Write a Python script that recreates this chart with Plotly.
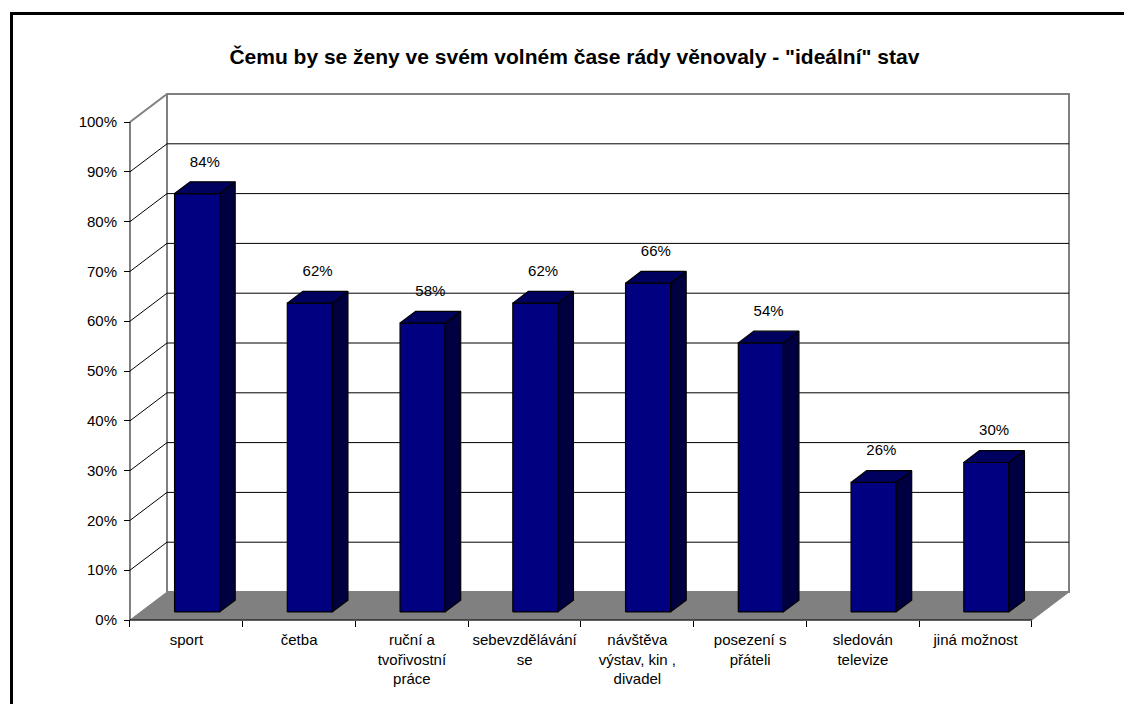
import plotly.graph_objects as go

# Survey data: share of women who would like to spend free time on each activity
categories = [
    "sport",
    "četba",
    "ruční a<br>tvořivostní<br>práce",
    "sebevzdělávání<br>se",
    "návštěva<br>výstav, kin ,<br>divadel",
    "posezení s<br>přáteli",
    "sledován<br>televize",
    "jiná možnost",
]
values = [0.84, 0.62, 0.58, 0.62, 0.66, 0.54, 0.26, 0.30]
value_labels = ["84%", "62%", "58%", "62%", "66%", "54%", "26%", "30%"]
y_ticks = [i / 10 for i in range(11)]

TITLE = 'Čemu by se ženy ve svém volném čase rády věnovaly - "ideální" stav'
FONT = "Arial, Liberation Sans, sans-serif"
FS = 15

# --- page / plot geometry (pixels) ---
W, H = 1124, 704
X0_PX, UNIT_X = 130.0, 112.75      # front x-axis origin and pixels per category
Y0_PX, UNIT_Y = 620.0, 498.0       # front y-axis origin and pixels per 100 %
DEPTH_PX = (37.0, 28.0)            # oblique depth of the floor / walls

n = len(categories)
DX = DEPTH_PX[0] / UNIT_X          # depth offset in data units
DY = DEPTH_PX[1] / UNIT_Y
X_RANGE = [-0.1, n + 0.4]
Y_RANGE = [-0.03, 1.07]

dom_x = [(X0_PX + X_RANGE[0] * UNIT_X) / W, (X0_PX + X_RANGE[1] * UNIT_X) / W]
dom_y = [(H - (Y0_PX - Y_RANGE[0] * UNIT_Y)) / H, (H - (Y0_PX - Y_RANGE[1] * UNIT_Y)) / H]

D_FRONT, D_BACK = 0.29, 0.71       # bar depth inside the floor
HALF_W = 0.2                       # half bar width in category units

C_FRONT, C_TOP, C_SIDE = "#000080", "#00005E", "#000040"
GRAY = "#808080"


def proj(x, y, d):
    """Oblique projection of a point at depth fraction d."""
    return x + d * DX, y + d * DY


fig = go.Figure()


def poly(points, fill, line_color, line_width=1.0):
    xs = [p[0] for p in points] + [points[0][0]]
    ys = [p[1] for p in points] + [points[0][1]]
    fig.add_trace(go.Scatter(
        x=xs, y=ys, mode="lines", fill="toself", fillcolor=fill,
        line=dict(color=line_color, width=line_width),
        hoverinfo="skip", showlegend=False))


def polyline(xs, ys, color, width=1.0):
    fig.add_trace(go.Scatter(
        x=xs, y=ys, mode="lines", line=dict(color=color, width=width),
        hoverinfo="skip", showlegend=False))


# back wall
poly([proj(0, 0, 1), proj(n, 0, 1), proj(n, 1, 1), proj(0, 1, 1)], "white", GRAY, 2)

# gridlines on the left and back walls
gx, gy = [], []
for v in y_ticks[1:-1]:
    for p in (proj(0, v, 0), proj(0, v, 1), proj(n, v, 1)):
        gx.append(p[0]); gy.append(p[1])
    gx.append(None); gy.append(None)
polyline(gx, gy, "black", 1)

# top edge of the left wall
polyline([0, proj(0, 1, 1)[0]], [1, proj(0, 1, 1)[1]], GRAY, 2)

# floor
poly([proj(0, 0, 0), proj(n, 0, 0), proj(n, 0, 1), proj(0, 0, 1)], GRAY, GRAY, 1)

# 3-D bars
for i, v in enumerate(values):
    xl, xr = i + 0.5 - HALF_W, i + 0.5 + HALF_W
    fl_b, fr_b = proj(xl, 0, D_FRONT), proj(xr, 0, D_FRONT)
    fr_t, fl_t = proj(xr, v, D_FRONT), proj(xl, v, D_FRONT)
    br_b, br_t, bl_t = proj(xr, 0, D_BACK), proj(xr, v, D_BACK), proj(xl, v, D_BACK)
    poly([fl_b, fr_b, fr_t, fl_t], C_FRONT, "black", 1.2)
    poly([fr_b, br_b, br_t, fr_t], C_SIDE, "black", 1.2)
    poly([fl_t, fr_t, br_t, bl_t], C_TOP, "black", 1.2)

# value labels above the bars
lab_x = [proj(i + 0.5, v, 0.5)[0] for i, v in enumerate(values)]
lab_y = [proj(i + 0.5, v, 0.5)[1] + 0.05 for i, v in enumerate(values)]
fig.add_trace(go.Scatter(
    x=lab_x, y=lab_y, mode="text", text=value_labels, textposition="middle center",
    textfont=dict(family=FONT, size=FS, color="black"),
    hoverinfo="skip", showlegend=False, cliponaxis=False))

# front axis lines
polyline([0, 0], [0, 1], "black", 1)
polyline([0, n], [0, 0], "black", 1)

fig.update_layout(
    width=W, height=H,
    margin=dict(l=0, r=0, t=0, b=0),
    paper_bgcolor="white", plot_bgcolor="rgba(0,0,0,0)",
    font=dict(family=FONT, size=FS, color="black"),
    showlegend=False,
    xaxis=dict(
        domain=dom_x, range=X_RANGE, anchor="free", position=(H - Y0_PX) / H,
        showgrid=False, zeroline=False, showline=False,
        tickmode="array", tickvals=[i + 0.5 for i in range(n)], ticktext=categories,
        ticks="", tickfont=dict(family=FONT, size=FS, color="black"),
        ticklabelstandoff=9,
        minor=dict(tickmode="array", tickvals=list(range(n + 1)), ticks="outside",
                   ticklen=6, tickwidth=1, tickcolor="black", showgrid=False),
    ),
    yaxis=dict(
        domain=dom_y, range=Y_RANGE, anchor="free", position=X0_PX / W,
        showgrid=False, zeroline=False, showline=False,
        tickmode="array", tickvals=y_ticks, tickformat=".0%",
        ticks="outside", ticklen=6, tickwidth=1, tickcolor="black",
        ticklabelstandoff=4,
        tickfont=dict(family=FONT, size=FS, color="black"),
    ),
    title=dict(text="<b>" + TITLE + "</b>", x=0.511, xanchor="center",
               y=1 - 57 / H, yanchor="middle",
               font=dict(family=FONT, size=21, color="black")),
    shapes=[dict(type="rect", xref="paper", yref="paper",
                 x0=11.5 / W, x1=1.02, y0=-0.02, y1=1 - 13.5 / H,
                 line=dict(color="black", width=3), fillcolor="rgba(0,0,0,0)",
                 layer="below")],
)

fig.write_html("out.html")
